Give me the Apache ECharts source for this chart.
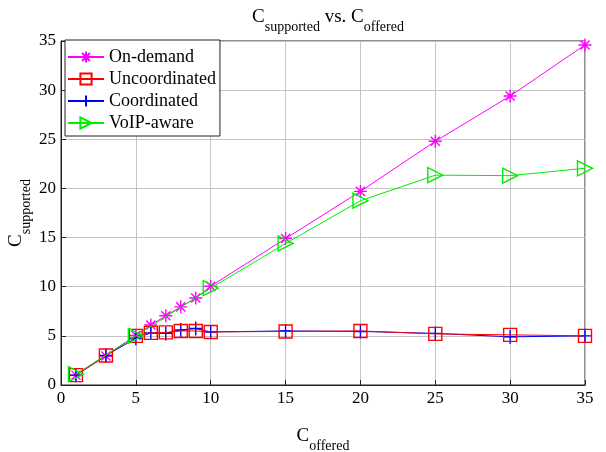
<!DOCTYPE html>
<html><head><meta charset="utf-8">
<script src="https://cdn.jsdelivr.net/npm/echarts@6/dist/echarts.min.js"></script>
<style>html,body{margin:0;padding:0;background:#fff}#c{width:606px;height:452px}</style>
</head><body><div id="c"></div>
<script>
var xTicks = [0,5,10,15,20,25,30,35];
var yTicks = [0,5,10,15,20,25,30,35];
var xOnDemand = [1,3,5,6,7,8,9,10,15,20,25,30,35];
var yOnDemand = [1.0,2.95,5.05,6.1,7.05,7.95,8.85,10.05,14.9,19.7,24.8,29.4,34.6];
var xUncoord = [1,3,5,6,7,8,9,10,15,20,25,30,35];
var yUncoord = [1.0,3.0,5.0,5.3,5.35,5.5,5.5,5.4,5.45,5.5,5.2,5.1,5.0];
var xCoord = [1,3,5,6,7,8,9,10,15,20,25,30,35];
var yCoord = [1.0,3.0,4.75,5.3,5.25,5.6,5.75,5.4,5.5,5.45,5.25,4.9,5.0];
var xVoip = [1,5,10,15,20,25,30,35];
var yVoip = [1.1,5.0,9.85,14.4,18.75,21.35,21.3,22.05];

function pairs(xs, ys){ return xs.map(function(x,i){ return [x, ys[i]]; }); }

var font = 'Liberation Serif';
var chart = echarts.init(document.getElementById('c'));
var starPath = 'path://M5,0L5,10M0,5L10,5M1.5,1.5L8.5,8.5M8.5,1.5L1.5,8.5';
var plusPath = 'path://M5,0L5,10M0,5L10,5';
var triPath = 'path://M0,0L10,5L0,10Z';
var sqPath = 'path://M0,0L10,0L10,10L0,10Z';
function mk(name, data, color, sym, size, z){
  return {
    name: name, type: 'line', data: data, symbol: sym, symbolSize: size,
    showAllSymbol: true, z: z,
    lineStyle: {color: color, width: 1},
    itemStyle: {color: 'rgba(0,0,0,0)', borderColor: color, borderWidth: 1.4},
    emphasis: {disabled: true}, animation: false
  };
}
var rich = {
  a: {fontFamily: font, fontSize: 19, fontWeight: 'normal', color: '#000', lineHeight: 26, verticalAlign: 'top'},
  b: {fontFamily: font, fontSize: 14, fontWeight: 'normal', color: '#000', lineHeight: 26, verticalAlign: 'bottom'}
};
chart.setOption({
  animation: false,
  title: {
    text: '{a|C}{b|supported}{a| vs. C}{b|offered}',
    left: 323, top: 3, textAlign: 'center',
    textStyle: {fontWeight: 'normal', rich: rich}
  },
  grid: {left: 61, right: 21, top: 41, bottom: 67, show: true, borderColor: '#222', borderWidth: 1, backgroundColor: '#fff',
    containLabel: false, outerBoundsMode: 'none'},
  legend: {
    orient: 'vertical', left: 65, top: 40,
    backgroundColor: '#fff', borderColor: '#222', borderWidth: 1,
    padding: [7, 4, 3, 2], itemGap: 2, itemWidth: 36, itemHeight: 14,
    textStyle: {fontFamily: font, fontSize: 18, color: '#000', lineHeight: 20},
    data: ['On-demand', 'Uncoordinated', 'Coordinated', 'VoIP-aware']
  },
  xAxis: {
    type: 'value', min: 0, max: 35, interval: 5,
    name: '{a|C}{b|offered}', nameLocation: 'middle', nameGap: 42, nameMoveOverlap: false,
    nameTextStyle: {rich: rich},
    axisLine: {show: true, lineStyle: {color: '#222'}},
    axisTick: {show: true, inside: true, length: 5, lineStyle: {color: '#222'}},
    axisLabel: {fontFamily: font, fontSize: 17, color: '#000', margin: 5,
      formatter: function(v){ return xTicks.indexOf(v) >= 0 ? String(v) : ''; }},
    splitLine: {show: true, lineStyle: {color: '#c4c4c4', width: 1}}
  },
  yAxis: {
    type: 'value', min: 0, max: 35, interval: 5,
    name: '{a|C}{b|supported}', nameLocation: 'middle', nameGap: 28, nameMoveOverlap: false,
    nameTextStyle: {rich: rich},
    axisLine: {show: true, lineStyle: {color: '#222'}},
    axisTick: {show: true, inside: true, length: 5, lineStyle: {color: '#222'}},
    axisLabel: {fontFamily: font, fontSize: 17, color: '#000', margin: 5,
      formatter: function(v){ return yTicks.indexOf(v) >= 0 ? String(v) : ''; }},
    splitLine: {show: true, lineStyle: {color: '#c4c4c4', width: 1}}
  },
  series: [
    mk('On-demand', pairs(xOnDemand, yOnDemand), '#ff00ff', starPath, 13, 3),
    mk('Uncoordinated', pairs(xUncoord, yUncoord), '#ff0000', sqPath, 13, 4),
    mk('Coordinated', pairs(xCoord, yCoord), '#0000ff', plusPath, 14, 3),
    mk('VoIP-aware', pairs(xVoip, yVoip), '#00ee00', triPath, 15, 5)
  ]
});
</script></body></html>
